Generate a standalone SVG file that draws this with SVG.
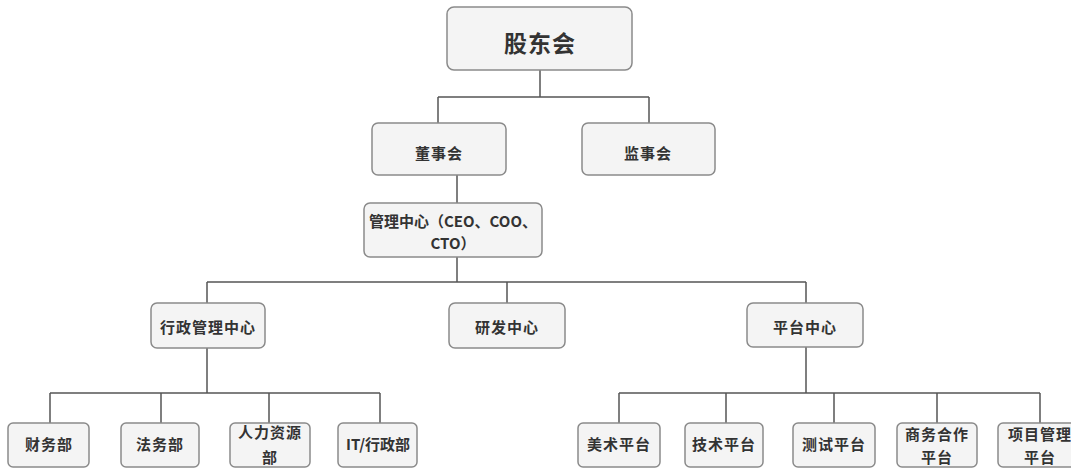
<svg xmlns="http://www.w3.org/2000/svg" width="1071" height="468" viewBox="0 0 1071 468">
<style>
.box{fill:#f4f4f4;stroke:#8a8a8a;stroke-width:1.5}
.t{font-family:"Noto Sans CJK SC","Liberation Serif",serif;font-size:15px;font-weight:bold;fill:#333;text-anchor:middle;dominant-baseline:central;letter-spacing:1px}
.big{font-size:23px}
.ln{stroke:#555;stroke-width:1.5;fill:none}
</style>
<rect width="1071" height="468" fill="#fff"/>
<g id="connectors">
<path class="ln" d="M540 70V97M438 97H649M438 97V123M649 97V123"/>
<path class="ln" d="M457 175V203"/>
<path class="ln" d="M457 257V282M207 282H806M207 282V303M507 282V303M806 282V303"/>
<path class="ln" d="M207 348V393M50 393H380M50 393V423M161 393V423M269 393V423M380 393V423"/>
<path class="ln" d="M806 347V393M619 393H1040M619 393V423M726 393V423M834 393V423M937 393V423M1040 393V423"/>
</g>
<g id="n-gudonghui"><rect class="box" x="447" y="7" width="185" height="63" rx="7"/><text class="t big" x="540" y="42">股东会</text></g>
<g id="n-dongshihui"><rect class="box" x="372" y="123" width="134" height="52" rx="6"/><text class="t" x="439" y="152">董事会</text></g>
<g id="n-jianshihui"><rect class="box" x="582" y="123" width="133" height="52" rx="6"/><text class="t" x="648" y="152">监事会</text></g>
<g id="n-guanli"><rect class="box" x="364" y="203" width="178" height="54" rx="6"/><text class="t" x="453" y="220" style="letter-spacing:0">管理中心（CEO、COO、</text><text class="t" x="453" y="242" style="letter-spacing:0">CTO）</text></g>
<g id="n-xingzheng"><rect class="box" x="151" y="303" width="114" height="45" rx="6"/><text class="t" x="208" y="326">行政管理中心</text></g>
<g id="n-yanfa"><rect class="box" x="449" y="303" width="116" height="45" rx="6"/><text class="t" x="507" y="326">研发中心</text></g>
<g id="n-pingtai"><rect class="box" x="747" y="303" width="116" height="44" rx="6"/><text class="t" x="805" y="326">平台中心</text></g>
<g id="n-caiwu"><rect class="box" x="8" y="423" width="81" height="44" rx="5"/><text class="t" x="49" y="443">财务部</text></g>
<g id="n-fawu"><rect class="box" x="121" y="423" width="78" height="44" rx="5"/><text class="t" x="160" y="443">法务部</text></g>
<g id="n-renli"><rect class="box" x="230" y="423" width="80" height="44" rx="5"/><text class="t" x="270" y="431">人力资源</text><text class="t" x="270" y="456">部</text></g>
<g id="n-it"><rect class="box" x="338" y="423" width="79" height="44" rx="5"/><text class="t" x="378" y="443" style="letter-spacing:0">IT/行政部</text></g>
<g id="n-meishu"><rect class="box" x="578" y="423" width="82" height="44" rx="5"/><text class="t" x="619" y="443">美术平台</text></g>
<g id="n-jishu"><rect class="box" x="685" y="423" width="78" height="44" rx="5"/><text class="t" x="724" y="443">技术平台</text></g>
<g id="n-ceshi"><rect class="box" x="793" y="423" width="82" height="44" rx="5"/><text class="t" x="834" y="443">测试平台</text></g>
<g id="n-shangwu"><rect class="box" x="897" y="423" width="80" height="44" rx="5"/><text class="t" x="937" y="433">商务合作</text><text class="t" x="937" y="456">平台</text></g>
<g id="n-xiangmu"><rect class="box" x="998" y="423" width="85" height="44" rx="5"/><text class="t" x="1040" y="433">项目管理</text><text class="t" x="1040" y="456">平台</text></g>
</svg>
